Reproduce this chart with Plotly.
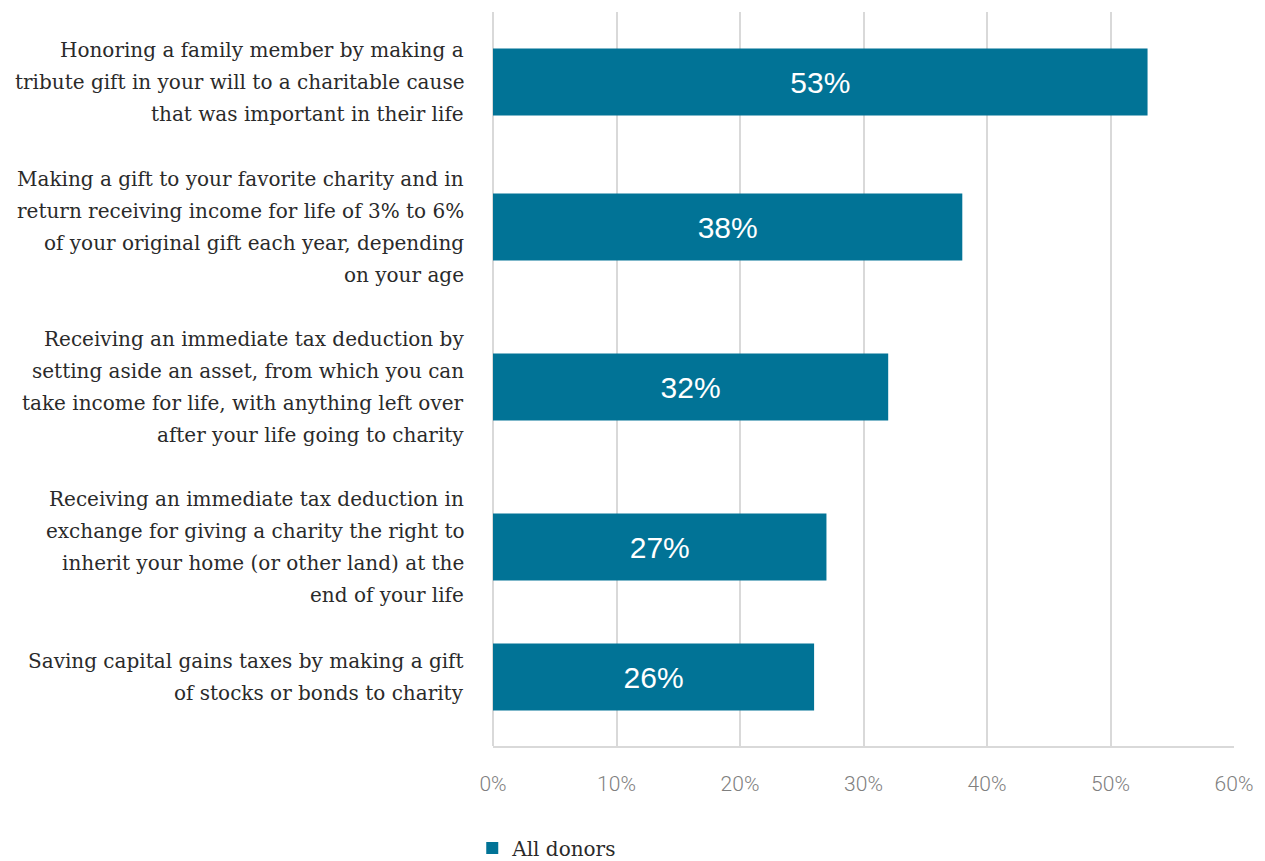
import plotly.graph_objects as go

# Survey results: share of donors interested in each planned-giving option
categories = [
    "Honoring a family member by making a<br>tribute gift in your will to a charitable cause<br>that was important in their life",
    "Making a gift to your favorite charity and in<br>return receiving income for life of 3% to 6%<br>of your original gift each year, depending<br>on your age",
    "Receiving an immediate tax deduction by<br>setting aside an asset, from which you can<br>take income for life, with anything left over<br>after your life going to charity",
    "Receiving an immediate tax deduction in<br>exchange for giving a charity the right to<br>inherit your home (or other land) at the<br>end of your life",
    "Saving capital gains taxes by making a gift<br>of stocks or bonds to charity",
]
values = [53, 38, 32, 27, 26]
series_name = "All donors"
x_ticks = [0, 10, 20, 30, 40, 50, 60]

BAR_COLOR = "#017396"
LABEL_FONT = "DejaVu Serif"
LINE_GAP = 32  # px between label lines

# Row spacing grows with the number of label lines on neighbouring rows
lines = [c.split("<br>") for c in categories]
positions = [0.0]
for a, b in zip(lines[:-1], lines[1:]):
    positions.append(positions[-1] + 15 * (len(a) + len(b)) + 40)

fig = go.Figure(
    go.Bar(
        x=values,
        y=positions,
        orientation="h",
        width=67,
        name=series_name,
        marker=dict(color=BAR_COLOR, line=dict(width=0)),
        text=[f"{v}%" for v in values],
        textposition="inside",
        insidetextanchor="middle",
        textangle=0,
        textfont=dict(family="Liberation Sans", size=30, color="white"),
        showlegend=True,
    )
)

# Category labels, one annotation per line so the leading can be controlled
annotations = []
for pos, ls in zip(positions, lines):
    mid = (len(ls) - 1) / 2
    for j, line in enumerate(ls):
        annotations.append(
            dict(
                text=line,
                xref="paper",
                x=0,
                xanchor="right",
                xshift=-27,
                yref="y",
                y=pos,
                yanchor="middle",
                yshift=(mid - j) * LINE_GAP,
                showarrow=False,
                align="right",
                font=dict(family=LABEL_FONT, size=20, color="#2a2a2a"),
            )
        )

fig.update_layout(
    width=1265,
    height=861,
    margin=dict(l=493, r=31, t=12, b=115, autoexpand=False),
    paper_bgcolor="white",
    plot_bgcolor="white",
    annotations=annotations,
    showlegend=True,
    legend=dict(
        orientation="h",
        x=-0.028,
        xanchor="left",
        y=-0.139,
        yanchor="middle",
        xref="paper",
        font=dict(family=LABEL_FONT, size=20, color="#2a2a2a"),
        itemwidth=30,
        bgcolor="rgba(0,0,0,0)",
    ),
    xaxis=dict(
        range=[0, 60],
        tickvals=x_ticks,
        ticktext=[f"{t}%" for t in x_ticks],
        showgrid=True,
        gridcolor="#d9d9d9",
        gridwidth=1.5,
        zeroline=True,
        zerolinecolor="#d9d9d9",
        zerolinewidth=1.5,
        showline=True,
        linecolor="#d9d9d9",
        linewidth=1.5,
        ticks="",
        ticklabelstandoff=18,
        tickfont=dict(family="Roboto", weight=300, size=21, color="#7f7f7f"),
        fixedrange=True,
    ),
    yaxis=dict(
        range=[positions[-1] + 69, positions[0] - 70],
        showticklabels=False,
        showgrid=False,
        zeroline=False,
        showline=False,
        ticks="",
        fixedrange=True,
    ),
)

fig.write_html("out.html")
